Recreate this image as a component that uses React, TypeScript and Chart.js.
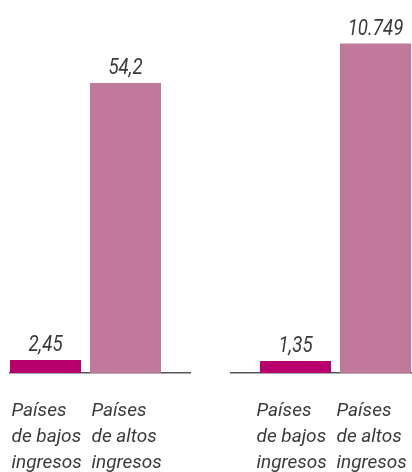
import React, { useEffect, useRef } from "react";
import { Chart, registerables } from "chart.js";

Chart.register(...registerables);

// ---- data ----
const categoryLabels: string[][] = [
  ["Países", "de bajos", "ingresos"],
  ["Países", "de altos", "ingresos"],
];
const leftValues = [2.45, 54.2];
const rightValues = [1.35, 10749];
const barColors = ["#B8006C", "#C0789B"];

function formatEs(v: number): string {
  const [i, f] = String(v).split(".");
  const grouped = i.length > 4 ? i.replace(/\B(?=(\d{3})+(?!\d))/g, ".") : i;
  return f ? grouped + "," + f : grouped;
}

const valueLabelPlugin = {
  id: "valueLabels",
  afterDatasetsDraw(chart: any) {
    const ctx = chart.ctx;
    chart.data.datasets.forEach((ds: any, di: number) => {
      const meta = chart.getDatasetMeta(di);
      meta.data.forEach((bar: any, i: number) => {
        const v = ds.data[i].y;
        ctx.save();
        ctx.font = "italic 400 22px Roboto";
        ctx.fillStyle = "#3a3a3a";
        ctx.textAlign = "center";
        ctx.textBaseline = "alphabetic";
        ctx.translate(bar.x, bar.y - 9);
        ctx.scale(0.85, 1);
        ctx.fillText(formatEs(v), 0, 0);
        ctx.restore();
      });
    });
  },
};

type PanelProps = {
  values: number[];
  left: number;
  padLeft: number;
  padRight: number;
  xMin: number;
  xMax: number;
  yMax: number;
  labelOffset: number;
};

function Panel({ values, left, padLeft, padRight, xMin, xMax, yMax, labelOffset }: PanelProps) {
  const ref = useRef<HTMLCanvasElement>(null);
  useEffect(() => {
    if (!ref.current) return;
    const chart = new Chart(ref.current, {
      type: "bar",
      data: {
        datasets: [
          {
            data: values.map((y, i) => ({ x: i, y })) as any,
            backgroundColor: barColors,
            borderWidth: 0,
            barPercentage: 1,
            categoryPercentage: 71 / 80,
            minBarLength: 12,
          },
        ],
      },
      options: {
        responsive: false,
        animation: false,
        layout: { padding: { left: padLeft, right: padRight, top: 0, bottom: 0 } },
        plugins: { legend: { display: false }, tooltip: { enabled: false } },
        scales: {
          x: {
            type: "linear",
            offset: false,
            min: xMin,
            max: xMax,
            grid: { display: false, drawTicks: true, tickLength: 25 },
            border: { display: true, color: "#555555", width: 1.5 },
            afterBuildTicks: (s: any) => {
              s.ticks = categoryLabels.map((_, i) => ({ value: i }));
            },
            afterFit: (s: any) => {
              s.paddingLeft = 0;
              s.paddingRight = 0;
              s.height = 99;
            },
            ticks: {
              autoSkip: false,
              maxRotation: 0,
              minRotation: 0,
              padding: 0,
              align: "start",
              labelOffset: labelOffset,
              color: "#3a3a3a",
              font: { family: "Roboto", style: "italic", weight: "400", size: 19, lineHeight: "26px" },
              callback: (v: any) => categoryLabels[v as number] as any,
            },
          },
          y: { display: false, min: 0, max: yMax },
        },
      },
      plugins: [valueLabelPlugin],
    } as any);
    return () => chart.destroy();
  }, []);
  return (
    <canvas
      ref={ref}
      width={206}
      height={472}
      style={{ position: "absolute", left, top: 0, width: 206, height: 472, display: "block" }}
    />
  );
}

export default function App() {
  return (
    <div style={{ position: "absolute", left: 0, top: 0, width: 412, height: 472, background: "#fff", overflow: "hidden" }}>
      <Panel values={leftValues} left={0} padLeft={10} padRight={16} xMin={-0.44375} xMax={1.80625} yMax={69.7} labelOffset={-34} />
      <Panel values={rightValues} left={206} padLeft={25} padRight={1} xMin={-0.80625} xMax={1.44375} yMax={12170} labelOffset={-39} />
    </div>
  );
}
